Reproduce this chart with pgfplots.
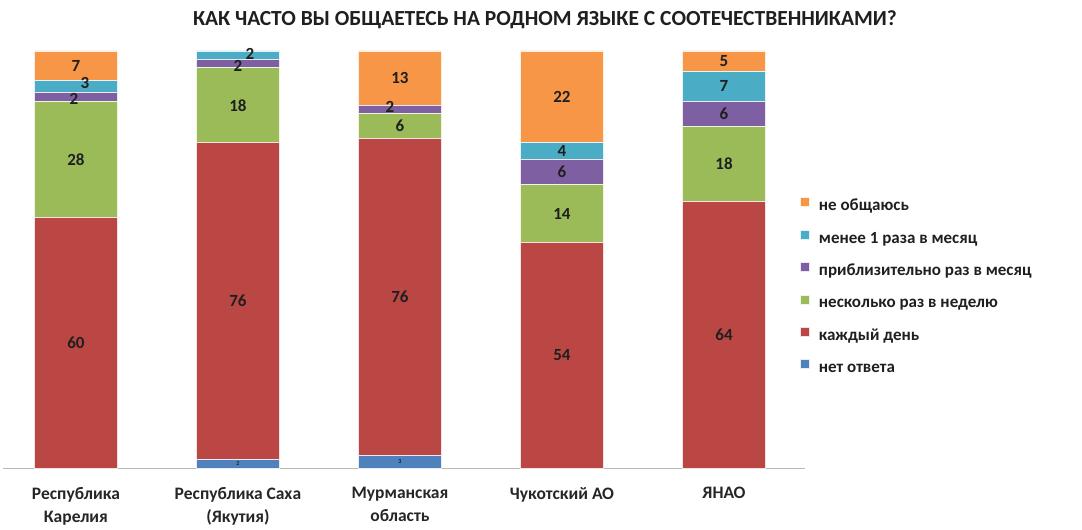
\documentclass[border=0pt]{standalone}
\usepackage{pgfplots}
\pgfplotsset{compat=1.18}
\usepackage{pgfplotstable}
\usepackage{fontspec}
\setmainfont{Carlito}
\definecolor{cBlue}{HTML}{4F81BD}
\definecolor{cRed}{HTML}{BA4744}
\definecolor{cGreen}{HTML}{9BBB59}
\definecolor{cPurple}{HTML}{7E5FA1}
\definecolor{cTeal}{HTML}{4BACC6}
\definecolor{cOrange}{HTML}{F79646}

\pgfplotstableread{
x y lab dx dy
0 0 {} 0 0
1 2 2 0 0
2 3 3 0 0
3 0 {} 0 0
4 0 {} 0 0
}\tblue
\pgfplotstableread{
x y lab dx dy
0 60 60 0 0
1 76 76 0 0
2 76 76 0 0
3 54 54 0 0
4 64 64 0 0
}\tred
\pgfplotstableread{
x y lab dx dy
0 28 28 0 0
1 18 18 0 0
2 6 6 0 0
3 14 14 0 0
4 18 18 0 0
}\tgreen
\pgfplotstableread{
x y lab dx dy
0 2 2 -2 -2
1 2 2 0 -2
2 2 2 -10 2
3 6 6 0 0
4 6 6 0 0
}\tpurple
\pgfplotstableread{
x y lab dx dy
0 3 3 9 3
1 2 2 12 1
2 0 {} 0 0
3 4 4 0 0
4 7 7 0 0
}\tteal
\pgfplotstableread{
x y lab dx dy
0 7 7 0 0
1 0 {} 0 0
2 13 13 0 0
3 22 22 0 0
4 5 5 0 0
}\torange

\begin{document}
\begin{tikzpicture}
\useasboundingbox (0,0) rectangle (1082pt,530pt);
\begin{axis}[
  at={(3pt,62pt)}, anchor=south west,
  scale only axis, width=802pt, height=417pt,
  xmin=-0.45, xmax=4.5, ymin=0, ymax=100,
  ybar stacked, bar width=83pt,
  clip=false,
  axis x line*=bottom, axis y line=none,
  x axis line style={-, draw=gray!55, line width=0.8pt},
  ytick=\empty,
  xtick={0,1,2,3,4},
  xticklabels={{Республика\\Карелия},{Республика Саха\\(Якутия)},{Мурманская\\область},{Чукотский АО},{ЯНАО}},
  major tick length=0pt,
  xticklabel style={font=\fontsize{17.5}{23}\selectfont\bfseries, align=center, inner sep=0pt, yshift=-19pt, text=black!85},
  point meta=explicit symbolic,
  visualization depends on={\thisrow{dx} \as \dxv},
  visualization depends on={\thisrow{dy} \as \dyv},
  nodes near coords,
  every node near coord/.append style={anchor=center, inner sep=0pt,
     font=\fontsize{17}{20}\selectfont\bfseries, text=black!88,
     xshift={\dxv*1pt}, yshift={\dyv*1pt}},
  mybar/.style={fill=#1, draw=white!85!#1, line width=0.7pt,
     legend image code/.code={\fill[fill=#1] (0pt,0pt) rectangle (9pt,9pt);}},
  reverse legend,
  legend style={at={(0.9938,0.434)}, anchor=west, draw=none, fill=none,
     inner sep=0pt, row sep=15pt, column sep=9pt,
     font=\fontsize{17}{20}\selectfont\bfseries,
     nodes={inner sep=0pt, text height=12pt, text depth=4pt, text=black!88}},
  legend cell align=left,
]
\addplot[mybar=cBlue, every node near coord/.append style={font=\fontsize{6}{7}\selectfont\bfseries}] table[x=x,y=y,meta=lab] {\tblue};
\addplot[mybar=cRed] table[x=x,y=y,meta=lab] {\tred};
\addplot[mybar=cGreen] table[x=x,y=y,meta=lab] {\tgreen};
\addplot[mybar=cPurple] table[x=x,y=y,meta=lab] {\tpurple};
\addplot[mybar=cTeal] table[x=x,y=y,meta=lab] {\tteal};
\addplot[mybar=cOrange] table[x=x,y=y,meta=lab] {\torange};
\legend{нет ответа, каждый день, несколько раз в неделю, приблизительно раз в месяц, менее 1 раза в месяц, не общаюсь}
\end{axis}
\node[font=\fontsize{21.5}{24}\selectfont\bfseries, text=black!88] at (545pt,510pt) {КАК ЧАСТО ВЫ ОБЩАЕТЕСЬ НА РОДНОМ ЯЗЫКЕ С СООТЕЧЕСТВЕННИКАМИ?};
\end{tikzpicture}
\end{document}
